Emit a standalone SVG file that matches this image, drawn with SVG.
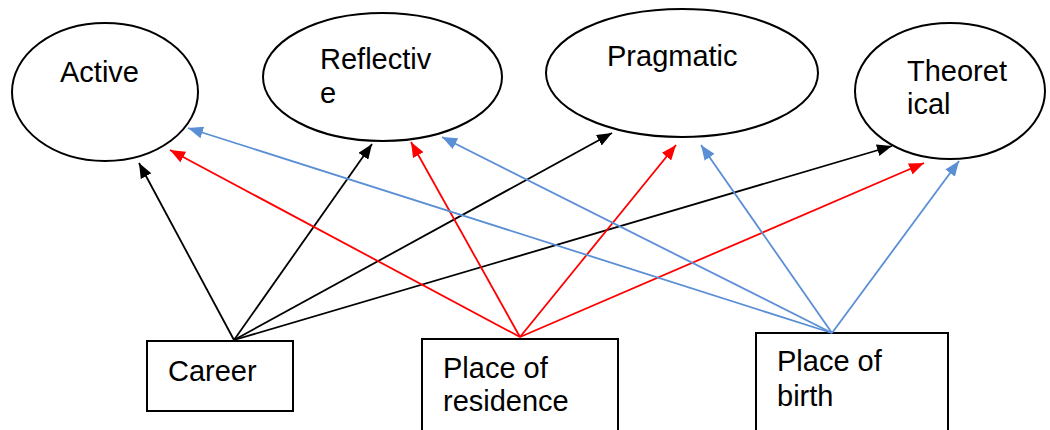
<svg xmlns="http://www.w3.org/2000/svg" width="1050" height="430" viewBox="0 0 1050 430">
<style>
.node{fill:#fff;stroke:#000;stroke-width:2}
.t{font-family:"Liberation Sans",Arial,sans-serif;font-size:29px;fill:#000}
.k{stroke:#000;stroke-width:1.8;fill:none}
.r{stroke:#ff0000;stroke-width:1.8;fill:none}
.b{stroke:#5a8fd6;stroke-width:1.8;fill:none}
</style>
<defs>
<marker id="ak" markerUnits="userSpaceOnUse" markerWidth="16" markerHeight="12" refX="15" refY="6" orient="auto"><path d="M0,0 L15,6 L0,12 z" fill="#000"/></marker>
<marker id="ar" markerUnits="userSpaceOnUse" markerWidth="16" markerHeight="12" refX="15" refY="6" orient="auto"><path d="M0,0 L15,6 L0,12 z" fill="#ff0000"/></marker>
<marker id="ab" markerUnits="userSpaceOnUse" markerWidth="16" markerHeight="12" refX="15" refY="6" orient="auto"><path d="M0,0 L15,6 L0,12 z" fill="#5a8fd6"/></marker>
</defs>
<g id="active"><ellipse class="node" cx="105" cy="92" rx="93" ry="69"/><text class="t" x="60" y="82">Active</text></g>
<g id="reflective"><ellipse class="node" cx="382.5" cy="77" rx="119.5" ry="64"/><text class="t" x="320" y="69">Reflectiv</text><text class="t" x="320" y="103">e</text></g>
<g id="pragmatic"><ellipse class="node" cx="682" cy="73" rx="136" ry="64"/><text class="t" x="607" y="66">Pragmatic</text></g>
<g id="theoretical"><ellipse class="node" cx="950" cy="91" rx="95" ry="68"/><text class="t" x="907" y="81">Theoret</text><text class="t" x="907" y="114">ical</text></g>
<g id="career"><rect class="node" x="147" y="341" width="146" height="70"/><text class="t" x="168" y="381">Career</text></g>
<g id="residence"><rect class="node" x="422" y="339" width="196" height="100"/><text class="t" x="443" y="378">Place of</text><text class="t" x="443" y="411">residence</text></g>
<g id="birth"><rect class="node" x="756" y="333" width="192" height="110"/><text class="t" x="777" y="371">Place of</text><text class="t" x="777" y="406">birth</text></g>
<g id="connectors">
<line class="k" x1="234" y1="340" x2="139" y2="163" marker-end="url(#ak)"/>
<line class="k" x1="234" y1="340" x2="372" y2="144" marker-end="url(#ak)"/>
<line class="k" x1="234" y1="340" x2="612" y2="133" marker-end="url(#ak)"/>
<line class="k" x1="234" y1="340" x2="892" y2="146" marker-end="url(#ak)"/>
<line class="r" x1="520" y1="337" x2="170" y2="150" marker-end="url(#ar)"/>
<line class="r" x1="520" y1="337" x2="411" y2="142" marker-end="url(#ar)"/>
<line class="r" x1="520" y1="337" x2="676" y2="145" marker-end="url(#ar)"/>
<line class="r" x1="520" y1="337" x2="924" y2="163" marker-end="url(#ar)"/>
<line class="b" x1="832" y1="333" x2="188" y2="128" marker-end="url(#ab)"/>
<line class="b" x1="832" y1="333" x2="442" y2="137" marker-end="url(#ab)"/>
<line class="b" x1="832" y1="333" x2="701" y2="145" marker-end="url(#ab)"/>
<line class="b" x1="832" y1="333" x2="959" y2="161" marker-end="url(#ab)"/>
</g>
</svg>
